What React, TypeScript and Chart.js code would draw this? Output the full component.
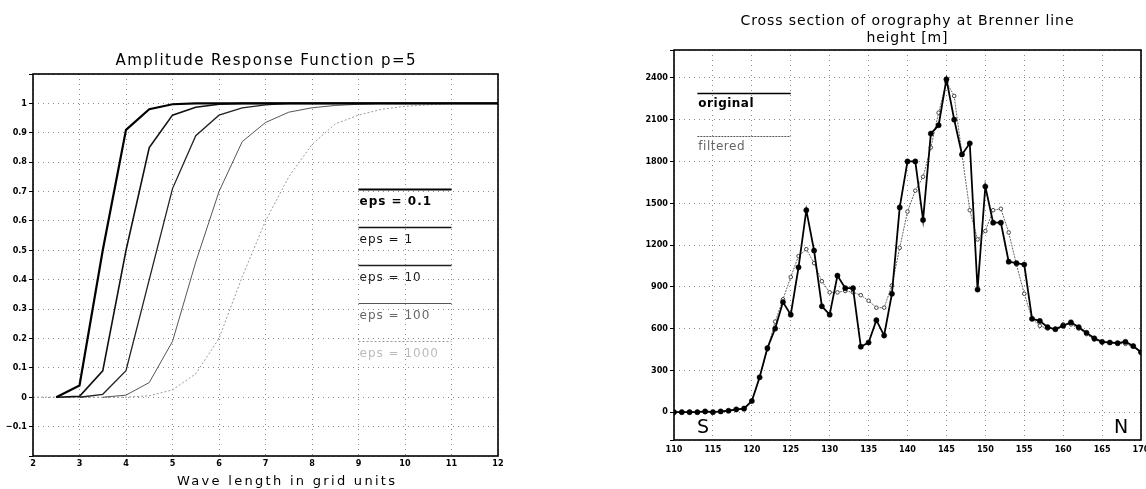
import React, { useEffect, useRef } from 'react';
import { Chart, registerables } from 'chart.js';

Chart.register(...registerables);

// ---------- Left chart: Amplitude Response Function p=5 ----------
const WAVE_LENGTHS = [2, 2.5, 3, 3.5, 4, 4.5, 5, 5.5, 6, 6.5, 7, 7.5, 8, 8.5, 9, 9.5, 10, 10.5, 11, 11.5, 12];
const EPS_LABELS = ['eps = 0.1', 'eps = 1', 'eps = 10', 'eps = 100', 'eps = 1000'];
const EPS_0_1 = [null, 0, 0.04, 0.5, 0.91, 0.98, 0.997, 1, 1, 1, 1, 1, 1, 1, 1, 1, 1, 1, 1, 1, 1];
const EPS_1 = [null, 0, 0.003, 0.09, 0.5, 0.85, 0.96, 0.987, 0.997, 1, 1, 1, 1, 1, 1, 1, 1, 1, 1, 1, 1];
const EPS_10 = [null, null, 0, 0.01, 0.09, 0.4, 0.71, 0.89, 0.96, 0.985, 0.995, 1, 1, 1, 1, 1, 1, 1, 1, 1, 1];
const EPS_100 = [null, null, null, 0, 0.007, 0.05, 0.19, 0.46, 0.7, 0.87, 0.935, 0.97, 0.985, 0.993, 0.997, 1, 1, 1, 1, 1, 1];
const EPS_1000 = [0, 0, 0, 0, 0, 0.005, 0.025, 0.08, 0.2, 0.41, 0.6, 0.75, 0.86, 0.93, 0.96, 0.98, 0.99, 0.995, 1, 1, 1];
const AMP_X_TICKS = [2, 3, 4, 5, 6, 7, 8, 9, 10, 11, 12];
const AMP_X_TICK_LABELS = ['2', '3', '4', '5', '6', '7', '8', '9', '10', '11', '12'];
const AMP_Y_TICKS = [-0.2, -0.1, 0, 0.1, 0.2, 0.3, 0.4, 0.5, 0.6, 0.7, 0.8, 0.9, 1, 1.1];
const AMP_Y_TICK_LABELS = ['', '\u22120.1', '0', '0.1', '0.2', '0.3', '0.4', '0.5', '0.6', '0.7', '0.8', '0.9', '1', ''];

// ---------- Right chart: Cross section of orography ----------
const KM = [110, 111, 112, 113, 114, 115, 116, 117, 118, 119, 120, 121, 122, 123, 124, 125, 126, 127, 128, 129, 130, 131, 132, 133, 134, 135, 136, 137, 138, 139, 140, 141, 142, 143, 144, 145, 146, 147, 148, 149, 150, 151, 152, 153, 154, 155, 156, 157, 158, 159, 160, 161, 162, 163, 164, 165, 166, 167, 168, 169, 170];
const ORIGINAL = [0, 0, 0, 0, 5, 0, 5, 10, 20, 25,
  80, 250, 460, 600, 790, 700, 1040, 1450, 1160, 760,
  700, 980, 890, 890, 470, 500, 660, 550, 850, 1470,
  1800, 1800, 1380, 2000, 2060, 2390, 2100, 1850, 1930, 880,
  1620, 1360, 1360, 1080, 1070, 1060, 670, 655, 610, 595,
  620, 645, 610, 570, 530, 505, 500, 495, 505, 475, 430];
const FILTERED = [0, 0, 0, 0, 0, 0, 5, 10, 15, 30,
  80, 250, 450, 650, 810, 970, 1120, 1170, 1070, 940,
  860, 860, 870, 860, 840, 800, 750, 750, 910, 1180,
  1440, 1590, 1690, 1900, 2150, 2370, 2270, 1850, 1450, 1240,
  1300, 1450, 1460, 1290, 1060, 850, 670, 620, 600, 600,
  630, 630, 600, 560, 520, 500, 500, 495, 490, 470, 430];
const KM_TICKS = [110, 115, 120, 125, 130, 135, 140, 145, 150, 155, 160, 165, 170];
const KM_TICK_LABELS = ['110', '115', '120', '125', '130', '135', '140', '145', '150', '155', '160', '165', '170'];
const HEIGHT_TICKS = [-200, 0, 300, 600, 900, 1200, 1500, 1800, 2100, 2400, 2600];
const HEIGHT_TICK_LABELS = ['', '0', '300', '600', '900', '1200', '1500', '1800', '2100', '2400', ''];
const SERIES_LABELS = ['original', 'filtered'];

const FONT = '"DejaVu Sans", "Liberation Sans", sans-serif';
const TICK_FONT = { family: '"DejaVu Sans Condensed", "DejaVu Sans", sans-serif', size: 9, weight: 'bold' as const };

function fitText(ctx: CanvasRenderingContext2D, text: string, cx: number, baseline: number, width: number, font: string, color: string) {
  ctx.save();
  ctx.font = font;
  (ctx as any).letterSpacing = '0px';
  const w = ctx.measureText(text).width;
  const n = Array.from(text).length;
  const ls = n > 1 ? (width - w) / (n - 1) : 0;
  (ctx as any).letterSpacing = ls + 'px';
  ctx.fillStyle = color;
  ctx.textAlign = 'left';
  ctx.textBaseline = 'alphabetic';
  ctx.fillText(text, cx - width / 2, baseline);
  ctx.restore();
}

function drawFrame(chart: any) {
  const { ctx, chartArea: a } = chart;
  ctx.save();
  ctx.strokeStyle = '#000';
  ctx.lineWidth = 1.6;
  ctx.strokeRect(a.left, a.top, a.right - a.left, a.bottom - a.top);
  ctx.restore();
}

const fixedTicks = (values: number[]) => (scale: any) => {
  scale.ticks = values.map((v) => ({ value: v }));
};

function makeAxis(ticks: number[], labels: string[], opts: { size: number; vertical: boolean; tickLen: number; pad: number; max?: number; min?: number }) {
  return {
    type: 'linear' as const,
    min: opts.min,
    max: opts.max,
    afterBuildTicks: fixedTicks(ticks),
    afterFit: (scale: any) => {
      if (opts.vertical) scale.width = opts.size;
      else scale.height = opts.size;
    },
    ticks: {
      autoSkip: false,
      maxRotation: 0,
      minRotation: 0,
      padding: opts.pad,
      color: '#000',
      font: TICK_FONT,
      callback: (_v: any, i: number) => labels[i],
    },
    grid: {
      color: '#8a8a8a',
      lineWidth: 1,
      drawTicks: opts.tickLen > 0,
      tickLength: opts.tickLen,
      tickColor: '#000',
      tickWidth: 1,
      tickBorderDash: [],
    },
    border: { display: false, dash: [1, 4] },
  };
}

const AMP_STYLES = [
  { color: '#000000', width: 2.2, dash: [] as number[], text: '#000', font: 'bold 12px ' + FONT },
  { color: '#111111', width: 1.6, dash: [] as number[], text: '#111', font: '12px ' + FONT },
  { color: '#222222', width: 1.3, dash: [] as number[], text: '#222', font: '12px ' + FONT },
  { color: '#555555', width: 1.0, dash: [] as number[], text: '#666', font: '12px ' + FONT },
  { color: '#9a9a9a', width: 1.0, dash: [2, 2] as number[], text: '#bbb', font: '12px ' + FONT },
];

function AmplitudeChart() {
  const ref = useRef<HTMLCanvasElement>(null);
  useEffect(() => {
    const series = [EPS_0_1, EPS_1, EPS_10, EPS_100, EPS_1000];
    const legendPlugin = {
      id: 'ampDecor',
      afterDraw(chart: any) {
        const { ctx } = chart;
        drawFrame(chart);
        fitText(ctx, 'Amplitude Response Function p=5', 265.5, 65, 300, '15px ' + FONT, '#000');
        fitText(ctx, 'Wave length in grid units', 286, 485, 218, '13px ' + FONT, '#000');
        const xs = chart.scales.x;
        const ys = chart.scales.y;
        const rows = [0.71, 0.58, 0.45, 0.32, 0.19];
        EPS_LABELS.forEach((label, i) => {
          const st = AMP_STYLES[i];
          const y = Math.round(ys.getPixelForValue(rows[i])) + 0.5;
          const x1 = xs.getPixelForValue(9);
          const x2 = xs.getPixelForValue(11);
          ctx.save();
          ctx.strokeStyle = st.color;
          ctx.lineWidth = st.width;
          ctx.setLineDash(st.dash);
          ctx.beginPath();
          ctx.moveTo(x1, y);
          ctx.lineTo(x2, y);
          ctx.stroke();
          ctx.restore();
          ctx.save();
          ctx.font = st.font;
          (ctx as any).letterSpacing = '1px';
          ctx.fillStyle = st.text;
          ctx.textAlign = 'left';
          ctx.textBaseline = 'alphabetic';
          ctx.fillText(label, x1 + 1, y + 15);
          ctx.restore();
        });
      },
    };
    const chart = new Chart(ref.current!, {
      type: 'line',
      data: {
        datasets: series.map((vals, i) => ({
          label: EPS_LABELS[i],
          data: WAVE_LENGTHS.map((x, j) => ({ x, y: vals[j] as any })),
          borderColor: AMP_STYLES[i].color,
          borderWidth: AMP_STYLES[i].width,
          borderDash: AMP_STYLES[i].dash,
          pointRadius: 0,
          tension: 0,
          fill: false,
          spanGaps: false,
        })),
      },
      options: {
        responsive: false,
        animation: false,
        layout: { padding: { left: 0, right: 102, top: 74, bottom: 13 } },
        plugins: { legend: { display: false }, title: { display: false }, tooltip: { enabled: false } },
        scales: {
          x: makeAxis(AMP_X_TICKS, AMP_X_TICK_LABELS, { size: 20, vertical: false, tickLen: 0, pad: 2, min: 2, max: 12 }) as any,
          y: makeAxis(AMP_Y_TICKS, AMP_Y_TICK_LABELS, { size: 33, vertical: true, tickLen: 4, pad: 2, min: -0.2, max: 1.1 }) as any,
        },
      },
      plugins: [legendPlugin],
    });
    return () => chart.destroy();
  }, []);
  return <canvas ref={ref} width={600} height={489} style={{ position: 'absolute', left: 0, top: 0, width: 600, height: 489 }} />;
}

function OrographyChart() {
  const ref = useRef<HTMLCanvasElement>(null);
  useEffect(() => {
    const decor = {
      id: 'oroDecor',
      afterDraw(chart: any) {
        const { ctx, chartArea: a } = chart;
        drawFrame(chart);
        fitText(ctx, 'Cross section of orography at Brenner line', 287, 25, 333, '14px ' + FONT, '#000');
        fitText(ctx, 'height [m]', 287, 41.5, 81, '14px ' + FONT, '#000');
        const xs = chart.scales.x;
        const ys = chart.scales.y;
        const x1 = xs.getPixelForValue(113);
        const x2 = xs.getPixelForValue(125);
        const rows = [2290, 1980];
        const lineStyles = [
          { color: '#000', width: 1.6, dash: [] as number[], text: '#000', font: 'bold 12px ' + FONT },
          { color: '#555', width: 1.2, dash: [2, 1] as number[], text: '#666', font: '12px ' + FONT },
        ];
        SERIES_LABELS.forEach((label, i) => {
          const st = lineStyles[i];
          const y = Math.round(ys.getPixelForValue(rows[i])) + 0.5;
          ctx.save();
          ctx.strokeStyle = st.color;
          ctx.lineWidth = st.width;
          ctx.setLineDash(st.dash);
          ctx.beginPath();
          ctx.moveTo(x1, y);
          ctx.lineTo(x2, y);
          ctx.stroke();
          ctx.restore();
          ctx.save();
          ctx.font = st.font;
          (ctx as any).letterSpacing = '0.5px';
          ctx.fillStyle = st.text;
          ctx.textAlign = 'left';
          ctx.fillText(label, x1 + 1, y + 13);
          ctx.restore();
        });
        ctx.save();
        ctx.font = '19px ' + FONT;
        ctx.fillStyle = '#000';
        ctx.textAlign = 'left';
        ctx.fillText('S', a.left + 23, a.bottom - 7);
        ctx.fillText('N', a.right - 27, a.bottom - 7);
        ctx.restore();
      },
    };
    const chart = new Chart(ref.current!, {
      type: 'line',
      data: {
        datasets: [
          {
            label: SERIES_LABELS[0],
            data: KM.map((x, j) => ({ x, y: ORIGINAL[j] })),
            borderColor: '#000',
            borderWidth: 1.8,
            pointRadius: 2.6,
            pointBackgroundColor: '#000',
            pointBorderColor: '#000',
            pointBorderWidth: 0.5,
            tension: 0,
            fill: false,
          },
          {
            label: SERIES_LABELS[1],
            data: KM.map((x, j) => ({ x, y: FILTERED[j] })),
            borderColor: '#666',
            borderWidth: 1,
            borderDash: [2, 1],
            pointRadius: 1.8,
            pointBackgroundColor: '#fff',
            pointBorderColor: '#444',
            pointBorderWidth: 1,
            tension: 0,
            fill: false,
          },
        ],
      },
      options: {
        responsive: false,
        animation: false,
        layout: { padding: { left: 0, right: 39, top: 50, bottom: 29 } },
        plugins: { legend: { display: false }, title: { display: false }, tooltip: { enabled: false } },
        scales: {
          x: makeAxis(KM_TICKS, KM_TICK_LABELS, { size: 20, vertical: false, tickLen: 0, pad: 4, min: 110, max: 170 }) as any,
          y: makeAxis(HEIGHT_TICKS, HEIGHT_TICK_LABELS, { size: 54, vertical: true, tickLen: 4, pad: 2, min: -200, max: 2600 }) as any,
        },
      },
      plugins: [decor],
    });
    return () => chart.destroy();
  }, []);
  return <canvas ref={ref} width={560} height={489} style={{ position: 'absolute', left: 620, top: 0, width: 560, height: 489 }} />;
}

export default function App() {
  return (
    <div style={{ position: 'fixed', left: 0, top: 0, right: 0, bottom: 0, overflow: 'hidden', background: '#fff' }}>
      <AmplitudeChart />
      <OrographyChart />
    </div>
  );
}
